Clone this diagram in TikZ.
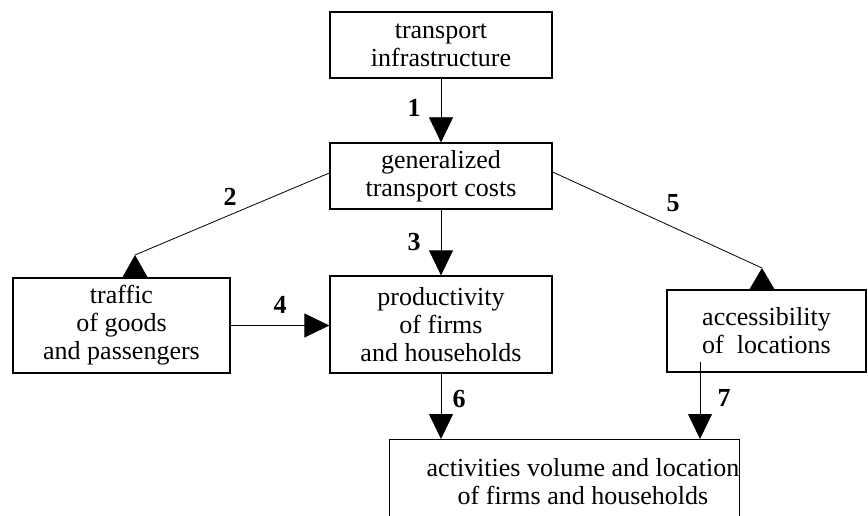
\documentclass[tikz,border=0pt]{standalone}
\usepackage{fontspec}
\setmainfont{Liberation Serif}
\usetikzlibrary{arrows.meta}

\begin{document}
\begin{tikzpicture}[x=1pt, y=-1pt,
	caja/.style={rectangle, draw=black, line width=1.3pt, align=center, font=\fontsize{26}{28}\selectfont, inner sep=0pt},
	texto/.style={align=center, font=\fontsize{26}{28}\selectfont, inner sep=0pt},
	numero/.style={font=\fontsize{26}{28}\selectfont\bfseries, inner sep=0pt},
	flecha/.style={line width=0.8pt, -{Triangle[length=25pt, width=24pt]}},
	linea/.style={line width=0.8pt}]
				\useasboundingbox (0,0) rectangle (868,516);
				\clip (0,0) rectangle (868,516);
				
				%%% CAJAS
				\node[caja, minimum width=222, minimum height=66] (infra) at (441,45) {transport\\infrastructure};
				\node[caja, minimum width=222, minimum height=66] (costes) at (441,176) {generalized\\transport costs};
				\node[caja, minimum width=217, minimum height=95] (trafico) at (121.5,325.5) {traffic\\of goods\\and passengers};
				\node[caja, minimum width=222, minimum height=97] (produc) at (441,324.5) {productivity\\of firms\\and households};
				\node[caja, minimum width=199, minimum height=82] (acceso) at (766.5,331) {accessibility\\of~~locations};
				\node[caja, minimum width=350, minimum height=110, anchor=north west] (activ) at (388.5,439) {};
				\node[texto] (activtxt) at (583,482) {activities volume and location\\of firms and households};
				
				%%% PUNTOS
				\coordinate (p2) at (135,255);
				\coordinate (p5) at (762,268);
				\coordinate (c7) at (700,362);
				
				%%% FLECHAS
				\draw[flecha] (infra) -- (costes);
				\draw[linea] ([yshift=3pt]costes.west) -- (p2);
				\fill (p2) -- ++(-13,23) -- ++(26,0) -- cycle;
				\draw[flecha] (costes) -- (produc);
				\draw[flecha] (trafico.east) -- (trafico.east -| produc.west);
				\draw[linea] ([yshift=4pt]costes.east) -- (p5);
				\fill (p5) -- ++(-13,22) -- ++(26,0) -- cycle;
				\draw[flecha] (produc) -- (produc |- activ.north);
				\draw[flecha] (c7) -- (c7 |- activ.north);
				
				%%% NUMEROS
				\node[numero] (n1) at (414,108) {1};
				\node[numero] (n2) at (230,197) {2};
				\node[numero] (n3) at (414,242) {3};
				\node[numero] (n4) at (280,305) {4};
				\node[numero] (n5) at (673,203) {5};
				\node[numero] (n6) at (459,399) {6};
				\node[numero] (n7) at (724,398) {7};
\end{tikzpicture}
\end{document}
